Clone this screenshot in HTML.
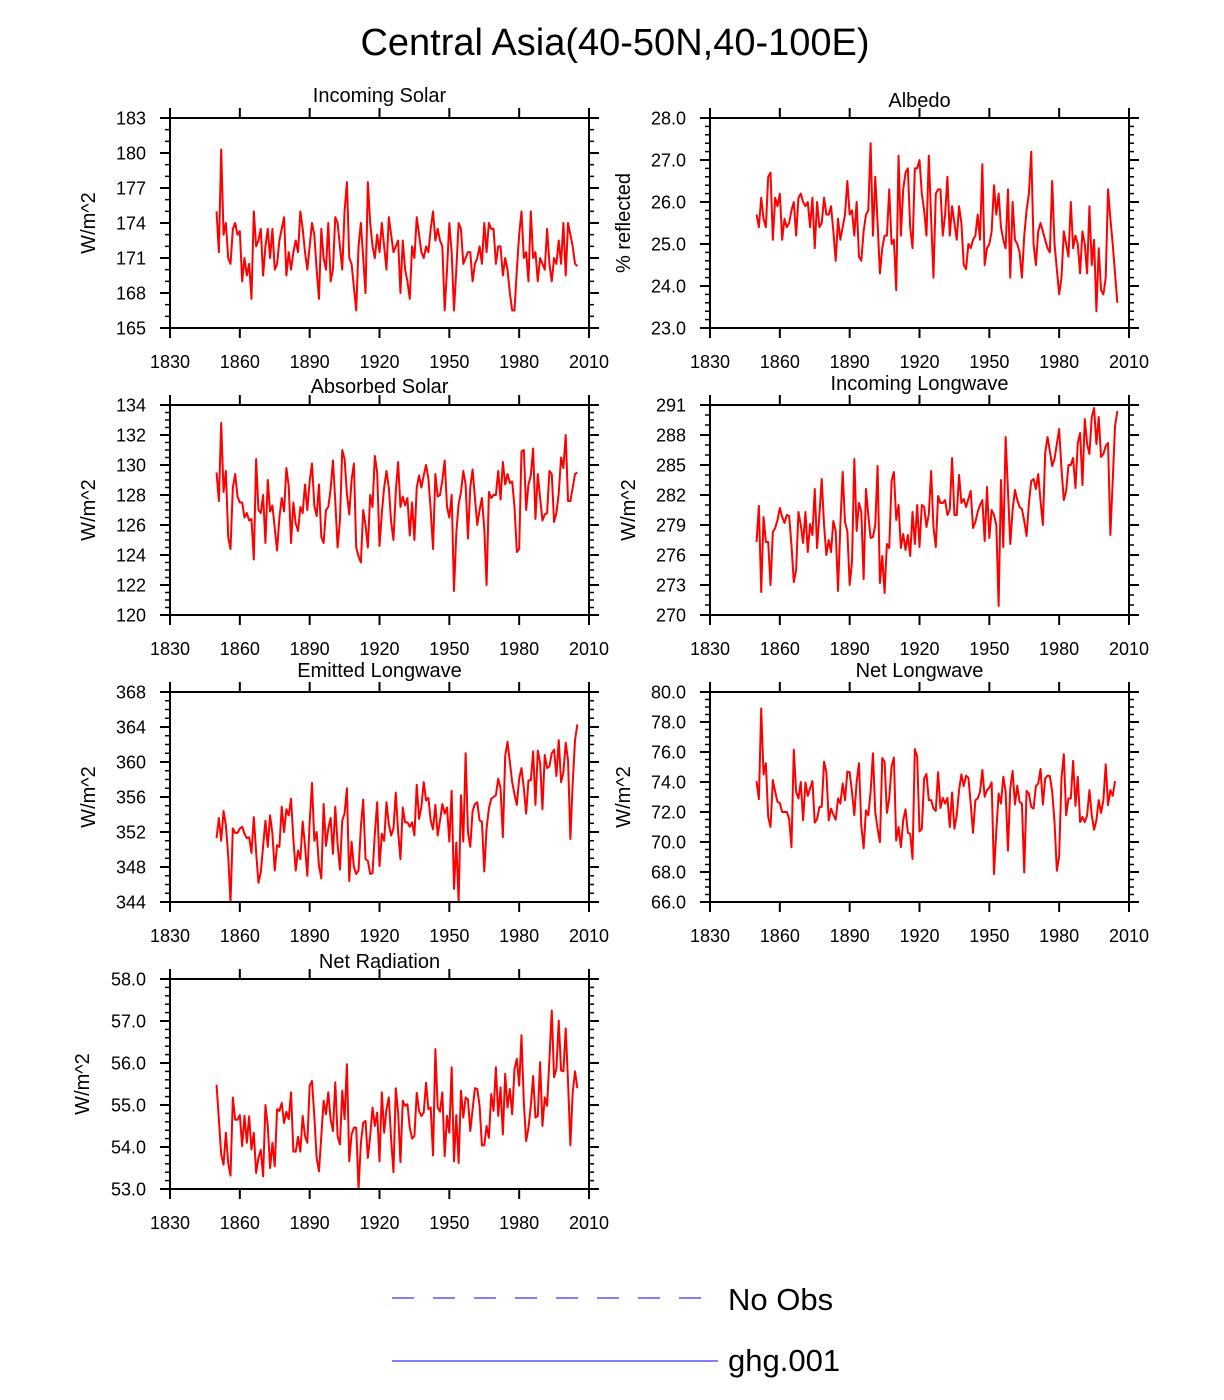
<!DOCTYPE html>
<html><head><meta charset="utf-8"><style>
html,body{margin:0;padding:0;background:#fff;}
svg{display:block;font-family:"Liberation Sans",sans-serif;}
</style></head><body>
<svg id="fig" width="1224" height="1400" viewBox="0 0 1224 1400">
<text x="615" y="55" font-size="38" text-anchor="middle">Central Asia(40-50N,40-100E)</text>
<g>
<line x1="392" y1="1298" x2="705" y2="1298" stroke="#0000ff" stroke-width="1" stroke-dasharray="22,19"/>
<text x="728" y="1310" font-size="31">No Obs</text>
<line x1="392" y1="1361" x2="718" y2="1361" stroke="#0000ff" stroke-width="1"/>
<text x="728" y="1371" font-size="31">ghg.001</text>
</g>
</svg>
<script>
const startYear = 1850;
const xTicks = [1830,1860,1890,1920,1950,1980,2010];
const incomingSolar = [175,171.5,180.3,173,174,171,170.5,173.5,174,173,
173.3,169,171,169.5,170.5,167.5,175,172,172.5,173.5,
169.5,172,173.5,171,173.5,170,170.5,172.5,173.5,174.5,
169.5,171.5,170,171.5,172.5,171.5,175,173.5,171.5,170,
172,174,173,170,167.5,173.5,171,170,174,169,
170,174.5,174,172,170,175,177.5,171,170.5,168.5,
166.5,172,174,171,168,177.5,174,172,171,173,
171.5,174,172,170,174.5,173,171.5,172,172.5,168,
172.5,170,169,167.5,172,171,174.5,173,171.5,171,
172,171.5,173.5,175,172.5,173.5,172.5,172,166.5,170,
174,171.5,166.5,170,174,173.5,170.5,171,171.5,171.5,
169,170.5,171,172,170.5,174,171.5,174,173.5,173.5,
170.5,172,172,169.5,171,170,168,166.5,166.5,170,
173,175,171,171.5,169,175,171,171.5,169,171,
170.5,170,173.5,170.5,169,171,170.5,172.5,170.5,174,
169.5,174,173,172,170.5,170.3];
const albedo = [25.7,25.4,26.1,25.6,25.4,26.6,26.7,25.1,26.1,25.9,
26.2,25.1,25.6,25.4,25.5,25.8,26.0,25.2,26.1,26.2,
26.0,25.9,26.0,25.4,26.1,24.9,26.0,25.4,25.5,26.1,
25.7,25.7,25.9,25.3,24.6,25.6,25.1,25.4,25.7,26.5,
25.7,25.8,25.2,26.0,24.7,24.6,25.3,25.7,25.8,27.4,
25.2,26.6,25.5,24.3,24.9,25.2,25.2,26.3,25.0,25.1,
23.9,27.1,25.2,26.3,26.7,26.8,25.4,24.9,26.8,26.8,
27.0,26.2,25.8,25.2,27.1,25.6,24.2,26.2,26.3,26.3,
25.2,25.7,26.6,25.2,25.9,25.5,25.1,25.9,25.5,24.5,
24.4,25.0,24.9,25.1,25.2,25.7,25.1,26.9,24.5,24.9,
25.0,25.3,26.4,25.7,26.2,25.4,25.1,24.9,26.3,24.2,
26.0,25.1,25.0,24.8,24.2,25.2,25.8,26.2,27.2,25.0,
24.5,25.3,25.5,25.3,25.1,24.9,24.8,26.5,25.0,24.4,
23.8,24.2,25.3,25.0,24.7,26.0,24.9,25.2,25.0,24.3,
25.3,25.0,24.3,25.9,24.5,25.1,23.4,24.9,23.9,23.8,
24.2,26.3,25.6,25.0,24.3,23.6];
const absorbedSolar = [129.5,127.6,132.8,128.2,129.6,125.2,124.4,128.5,129.4,127.9,
127.5,127.5,126.5,126.8,126.3,126.4,123.7,130.4,127.0,126.8,
128.0,124.8,129.0,126.9,127.3,125.8,124.3,126.5,127.8,126.9,
129.8,128.6,124.8,127.5,126.1,125.6,127.2,126.8,128.7,127.0,
128.9,130.1,127.3,126.6,128.7,125.2,124.8,127.0,127.2,128.4,
130.3,127.6,124.5,126.3,131.0,130.4,128.1,126.7,129.0,130.1,
124.5,123.9,123.5,127.0,126.0,124.5,128.0,127.2,130.6,129.5,
124.6,126.8,128.5,129.6,128.5,126.2,125.0,128.2,130.2,127.2,
127.9,127.3,127.8,125.3,127.5,125.0,128.5,129.3,128.5,129.3,
130.0,129.1,127.0,124.4,129.4,127.9,128.0,129.0,130.3,127.2,
126.5,128.0,121.6,125.5,127.4,128.2,129.6,128.7,125.1,128.5,
129.7,127.8,126.0,127.0,127.8,125.8,122.0,128.2,127.8,128.0,
128.0,129.6,127.7,130.2,128.7,129.4,128.8,128.9,127.2,124.2,
124.4,130.9,131.0,127.0,128.7,129.3,131.1,126.4,129.4,127.8,
126.3,126.7,126.8,129.6,129.4,126.2,126.8,128.1,130.5,129.8,
132.0,127.6,127.6,128.5,129.4,129.5];
const incomingLW = [277.3,280.9,272.3,279.8,277.3,277.3,273.0,278.3,278.7,279.5,
280.7,279.8,279.2,280.0,279.9,277.0,273.3,274.5,280.3,279.0,
277.2,280.3,276.3,279.1,278.0,282.6,276.7,280.0,283.6,279.0,
276.0,277.5,276.3,279.4,278.4,272.4,279.0,284.3,279.3,278.4,
273.0,275.3,285.6,278.4,281.2,280.3,273.6,282.6,280.0,277.7,
277.8,279.0,284.9,273.2,275.9,272.2,277.1,276.7,283.4,284.3,
279.5,281.0,
276.7,278.1,276.5,278.0,275.9,280.3,277.1,281.0,276.8,281.0,
280.8,278.8,280.1,284.4,278.8,276.8,281.9,281.2,281.2,281.5,
280.0,280.5,285.7,280.0,280.0,284.0,281.2,281.6,280.8,281.6,
282.4,278.7,279.3,280.3,281.0,281.5,277.4,282.8,277.7,280.5,
280.0,279.0,
270.9,283.5,276.8,287.8,282.4,277.1,280.5,282.5,281.5,280.8,
280.6,279.4,277.9,281.2,283.4,283.6,282.6,284.1,281.4,279.0,
286.2,287.8,286.4,284.9,285.6,287.1,288.6,284.6,281.5,282.4,
285.0,285.0,285.7,282.7,287.2,288.2,283.0,289.6,287.1,286.1,
289.8,290.7,287.1,289.8,285.8,286.1,286.9,287.2,278.0,283.4,
288.9,290.4];
const emittedLW = [351.3,353.6,351.0,354.4,352.8,349.3,344.0,352.4,351.9,351.9,
352.4,352.6,351.8,351.3,351.4,349.6,353.7,349.7,346.2,347.4,
350.4,353.3,350.3,353.9,351.8,347.6,350.5,350.3,354.9,352.0,
354.6,353.9,355.8,351.2,347.6,349.9,348.9,353.2,350.4,347.0,
353.1,357.6,351.0,352.0,348.1,346.7,355.2,350.4,352.4,353.6,
349.5,354.9,350.6,347.7,353.3,354.1,357.0,346.4,350.9,348.0,
347.2,347.6,352.6,355.7,348.9,348.7,347.2,347.3,351.8,355.4,
348.1,351.8,351.0,355.4,352.9,351.6,352.4,356.5,352.0,348.9,
354.8,353.1,353.1,352.6,353.1,351.6,357.4,353.5,354.9,357.7,
355.6,355.9,353.3,352.3,355.1,351.6,353.3,355.2,354.1,354.8,
350.9,356.7,345.5,350.8,344.0,356.2,350.9,361.0,352.0,350.3,
354.4,355.2,355.4,353.3,353.2,347.5,352.4,354.7,355.8,356.0,
356.2,358.1,357.0,351.4,360.7,362.3,360.0,357.7,356.3,355.1,
358.1,359.3,357.0,354.1,357.9,357.9,361.2,355.1,361.3,359.9,
354.6,360.8,359.3,359.5,361.0,361.4,358.4,362.5,357.7,358.8,
362.2,360.2,351.2,357.6,362.5,364.3];
const netLW = [74.06,72.85,78.9,74.5,75.25,71.67,71.0,74.13,73.35,72.67,
72.6,72.0,72.0,72.0,71.55,69.65,76.15,73.35,72.9,74.0,
71.45,73.97,73.08,73.57,74.06,71.29,71.51,72.34,72.34,75.36,
74.65,71.45,72.23,71.82,71.49,72.9,72.56,73.9,72.79,74.69,
74.65,73.35,71.78,74.0,75.25,71.1,69.58,72.11,71.78,73.35,
75.92,72.0,70.88,69.99,75.59,75.36,71.94,72.9,75.03,75.63,
70.1,71.0,69.65,71.45,72.18,70.61,70.55,68.87,76.19,75.7,
70.7,70.88,74.24,74.53,72.79,72.79,72.23,72.07,74.65,72.27,
72.94,72.56,72.94,71.0,73.3,70.88,71.78,73.46,74.51,73.73,
74.42,74.29,72.56,70.61,72.79,72.9,73.35,74.8,73.01,73.46,
73.62,73.97,67.86,70.77,73.23,72.56,74.35,73.35,69.43,73.57,
74.74,72.5,73.75,72.67,72.56,67.97,73.41,73.23,72.34,72.23,
73.73,73.9,74.87,72.5,74.24,74.42,74.4,73.35,71.33,68.08,
69.09,74.24,75.86,71.78,72.9,72.9,75.41,72.41,74.35,71.33,
71.67,71.33,71.78,73.46,71.78,70.82,71.45,72.79,71.94,72.79,
75.18,72.45,73.46,73.08,74.06];
const netRadiation = [55.48,54.66,53.82,53.58,54.34,53.62,53.32,55.18,54.65,54.65,
54.76,54.02,54.74,54.1,54.73,53.94,54.34,53.38,53.74,53.93,
53.3,55.0,54.5,53.5,54.1,53.54,54.9,54.86,55.05,54.57,
54.84,54.66,55.3,53.89,53.89,54.24,53.89,54.74,54.26,54.1,
55.46,55.57,54.74,53.74,53.42,54.26,55.1,54.78,55.3,54.66,
54.38,55.54,54.26,54.06,55.34,54.66,55.97,53.66,54.3,54.46,
54.46,53.0,54.1,54.58,54.62,53.74,54.26,54.94,54.5,54.82,
53.66,55.3,54.34,54.9,55.18,54.18,53.4,55.4,54.82,53.64,
55.1,54.98,55.02,54.46,54.2,54.26,55.29,54.86,54.74,54.82,
55.53,54.9,54.94,53.8,56.33,54.94,54.84,55.3,53.78,54.74,
54.34,55.9,53.66,54.76,53.62,55.34,54.7,55.18,55.13,54.38,
54.9,55.4,55.38,54.98,54.04,54.04,54.5,54.22,55.26,54.86,
55.9,54.74,55.42,54.3,55.74,54.94,55.38,54.78,55.86,56.1,
55.46,56.66,55.06,54.14,54.46,54.98,55.69,54.7,54.74,56.02,
54.5,55.18,54.98,56.1,57.25,55.66,55.86,57.01,55.82,55.8,
56.82,55.54,54.04,55.3,55.8,55.4];

const yTicksSolar = [165,168,171,174,177,180,183];
const yTicksAlbedo = [23.0,24.0,25.0,26.0,27.0,28.0];
const yTicksAbs = [120,122,124,126,128,130,132,134];
const yTicksILW = [270,273,276,279,282,285,288,291];
const yTicksELW = [344,348,352,356,360,364,368];
const yTicksNLW = [66.0,68.0,70.0,72.0,74.0,76.0,78.0,80.0];
const yTicksNR = [53.0,54.0,55.0,56.0,57.0,58.0];

const NS = 'http://www.w3.org/2000/svg';
const svg = document.getElementById('fig');
function mk(tag, attrs, parent){
  const e = document.createElementNS(NS, tag);
  for (const k in attrs) e.setAttribute(k, attrs[k]);
  parent.appendChild(e); return e;
}
const panels = [
  {key:'incoming-solar', title:'Incoming Solar', ytitle:'W/m^2', data:incomingSolar, ticks:yTicksSolar, minor:1, dec:0, x:170, y:118, ty:102, ytx:95},
  {key:'albedo', title:'Albedo', ytitle:'% reflected', data:albedo, ticks:yTicksAlbedo, minor:0.2, dec:1, x:710, y:118, ty:107, ytx:630},
  {key:'absorbed-solar', title:'Absorbed Solar', ytitle:'W/m^2', data:absorbedSolar, ticks:yTicksAbs, minor:0.5, dec:0, x:170, y:405, ty:393, ytx:95},
  {key:'incoming-longwave', title:'Incoming Longwave', ytitle:'W/m^2', data:incomingLW, ticks:yTicksILW, minor:1, dec:0, x:710, y:405, ty:390, ytx:635},
  {key:'emitted-longwave', title:'Emitted Longwave', ytitle:'W/m^2', data:emittedLW, ticks:yTicksELW, minor:1, dec:0, x:170, y:692, ty:677, ytx:95},
  {key:'net-longwave', title:'Net Longwave', ytitle:'W/m^2', data:netLW, ticks:yTicksNLW, minor:0.5, dec:1, x:710, y:692, ty:677, ytx:630},
  {key:'net-radiation', title:'Net Radiation', ytitle:'W/m^2', data:netRadiation, ticks:yTicksNR, minor:0.2, dec:1, x:170, y:979, ty:968, ytx:89}
];
const W = 419, H = 210;
panels.forEach(p => {
  const g = mk('g', {}, svg);
  
  
  const ymin = p.ticks[0], ymax = p.ticks[p.ticks.length-1];
  const xs = yr => p.x + (yr - 1830) / 180 * W;
  const ys = v => p.y + H - (v - ymin) / (ymax - ymin) * H;
  let d = '';
  p.data.forEach((v,i) => { d += (i ? 'L' : 'M') + xs(startYear + i).toFixed(2) + ',' + ys(v).toFixed(2); });
  const line = mk('path', {d:d, fill:'none', stroke:'#ff0000', 'stroke-width':2, 'stroke-linejoin':'round'}, g);
  
  
  const fr = mk('rect', {x:p.x, y:p.y, width:W, height:H, fill:'none', stroke:'#000', 'stroke-width':2}, g);
  
  
  const nMinor = Math.round((ymax - ymin) / p.minor);
  for (let k = 0; k <= nMinor; k++) {
    const v = ymin + k * p.minor; const yy = ys(v);
    const isMajor = p.ticks.some(t => Math.abs(t - v) < 1e-6);
    const len = isMajor ? 10 : 5;
    mk('line', {x1:p.x-len, y1:yy, x2:p.x, y2:yy, stroke:'#000', 'stroke-width': isMajor?2:1.5}, g);
    mk('line', {x1:p.x+W, y1:yy, x2:p.x+W+len, y2:yy, stroke:'#000', 'stroke-width': isMajor?2:1.5}, g);
  }
  p.ticks.forEach(t => {
    const tl = mk('text', {x:p.x-24, y:ys(t)+6.5, 'font-size':18, 'text-anchor':'end'}, g);
    tl.textContent = t.toFixed(p.dec);
    
    
  });
  xTicks.forEach(t => {
    const xx = xs(t);
    mk('line', {x1:xx, y1:p.y+H, x2:xx, y2:p.y+H+10, stroke:'#000', 'stroke-width':2}, g);
    mk('line', {x1:xx, y1:p.y-10, x2:xx, y2:p.y, stroke:'#000', 'stroke-width':2}, g);
    const xl = mk('text', {x:xx, y:p.y+H+40, 'font-size':18, 'text-anchor':'middle'}, g);
    xl.textContent = t;
    
    
  });
  const tt = mk('text', {x:p.x+W/2, y:p.ty, 'font-size':20, 'text-anchor':'middle'}, g);
  tt.textContent = p.title;
  
  
  const cy = p.y + H/2;
  const yt = mk('text', {x:p.ytx, y:cy, 'font-size':20, 'text-anchor':'middle', transform:'rotate(-90 '+p.ytx+' '+cy+')'}, g);
  yt.textContent = p.ytitle;
  
  
});
</script>
</body></html>
